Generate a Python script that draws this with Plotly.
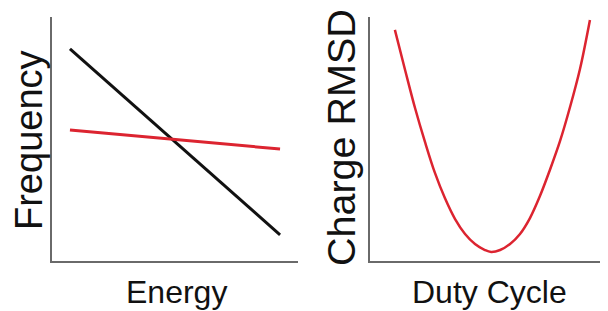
import plotly.graph_objects as go

# ---- data (axis units, 0-10 on each axis) ----
energy = [0.73, 9.27]
freq_black = [8.69, 1.07]
freq_red = [5.37, 4.59]

duty_cycle = [1.05, 1.48, 1.90, 2.32, 2.74, 3.16, 3.59, 4.01, 4.43, 4.85, 5.11,
              5.49, 5.91, 6.33, 6.75, 7.17, 7.59, 8.02, 8.44, 8.86, 9.28]
charge_rmsd = [9.47, 7.83, 6.27, 4.88, 3.61, 2.58, 1.72, 1.11, 0.70, 0.45, 0.37,
               0.45, 0.70, 1.11, 1.76, 2.66, 3.73, 4.92, 6.31, 7.87, 9.88]

x_titles = ["Energy", "Duty Cycle"]
y_titles = ["Frequency", "Charge RMSD"]

# page body has an 8px margin, so the figure is drawn 8px in from the window edge
W, H = 600, 303
OFF = 8
RED = "#dc2430"


def px_x(p):
    return (p - OFF) / W


def px_y(p):
    return 1 - (p - OFF) / H


fig = go.Figure()
fig.add_trace(go.Scatter(x=energy, y=freq_black, mode="lines",
                         line=dict(color="#111111", width=3), xaxis="x", yaxis="y"))
fig.add_trace(go.Scatter(x=energy, y=freq_red, mode="lines",
                         line=dict(color=RED, width=3), xaxis="x", yaxis="y"))
fig.add_trace(go.Scatter(x=duty_cycle, y=charge_rmsd, mode="lines",
                         line=dict(color=RED, width=2.5, shape="spline", smoothing=1.0),
                         xaxis="x2", yaxis="y2"))

ax = dict(showline=True, linecolor="#6a6a6a", linewidth=2, showgrid=False,
          zeroline=False, showticklabels=False, ticks="", range=[0, 10], fixedrange=True)
ydom = [px_y(261), px_y(17)]
fig.update_layout(
    width=W, height=H, margin=dict(l=0, r=0, t=0, b=0),
    paper_bgcolor="white", plot_bgcolor="white", showlegend=False,
    xaxis=dict(ax, domain=[px_x(52), px_x(298)], anchor="y"),
    yaxis=dict(ax, domain=ydom, anchor="x"),
    xaxis2=dict(ax, domain=[px_x(370), px_x(607)], anchor="y2"),
    yaxis2=dict(ax, domain=ydom, anchor="x2"),
)

font_family = "Liberation Sans, Arial, sans-serif"
fig.add_annotation(text=x_titles[0], x=px_x(176), y=px_y(292), xref="paper", yref="paper",
                   xanchor="center", yanchor="middle", showarrow=False,
                   font=dict(family=font_family, size=32, color="#111111"))
fig.add_annotation(text=x_titles[1], x=px_x(489), y=px_y(292), xref="paper", yref="paper",
                   xanchor="center", yanchor="middle", showarrow=False,
                   font=dict(family=font_family, size=32, color="#111111"))
fig.add_annotation(text=y_titles[0], x=px_x(29), y=px_y(140), xref="paper", yref="paper",
                   xanchor="center", yanchor="middle", showarrow=False, textangle=-90,
                   font=dict(family=font_family, size=38, color="#111111"))
fig.add_annotation(text=y_titles[1], x=px_x(341), y=px_y(138), xref="paper", yref="paper",
                   xanchor="center", yanchor="middle", showarrow=False, textangle=-90,
                   font=dict(family=font_family, size=39.5, color="#111111"))

fig.write_html("out.html")
